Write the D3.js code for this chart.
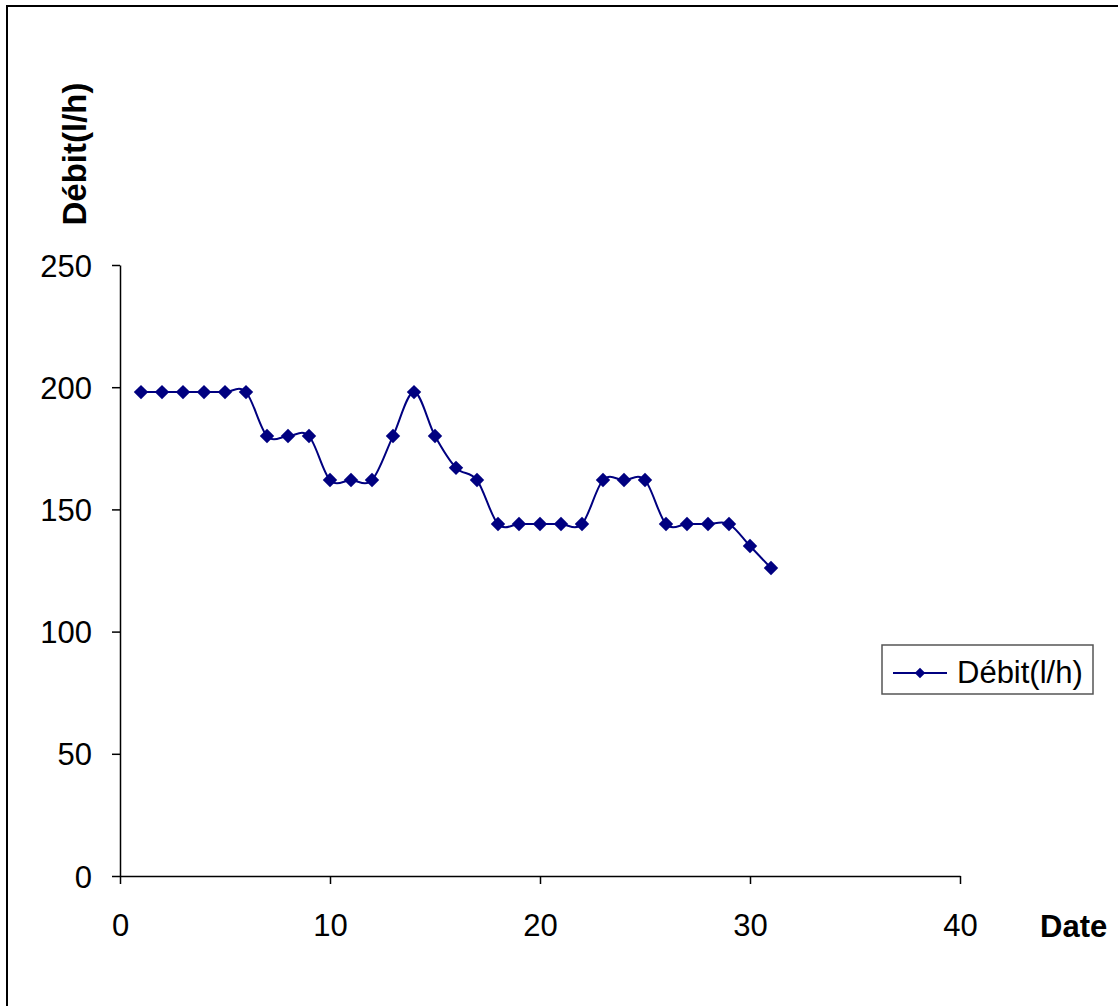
<!DOCTYPE html>
<html>
<head>
<meta charset="utf-8">
<script src="https://cdn.jsdelivr.net/npm/d3@7"></script>
<style>
	body { margin: 0; background: #fff; }
	svg { display: block; font-family: "Liberation Sans", Arial, sans-serif; }
</style>
</head>
<body>
<svg width="1118" height="1006"></svg>
<script>
// jours (Date) et debit mesure (l/h)
var days = [1, 2, 3, 4, 5, 6, 7, 8, 9, 10, 11, 12, 13, 14, 15, 16, 17, 18, 19, 20, 21, 22, 23, 24, 25, 26, 27, 28, 29, 30, 31];
var debit = [198, 198, 198, 198, 198, 198, 180, 180, 180, 162, 162, 162, 180, 198, 180, 167, 162, 144, 144, 144, 144, 144, 162, 162, 162, 144, 144, 144, 144, 135, 126];
var xTicks = [0, 10, 20, 30, 40];
var yTicks = [0, 50, 100, 150, 200, 250];
var seriesName = "Débit(l/h)";

var svg = d3.select("svg"),
	margin = {
		top: 265,
		left: 120
	},
	width = 840,
	height = 611;

var navy = "#000080";

// cadre exterieur
svg.append("rect")
	.attr("x", 7)
	.attr("y", 6)
	.attr("width", 1300)
	.attr("height", 1300)
	.attr("fill", "white")
	.attr("stroke", "black")
	.attr("stroke-width", 2);

var x = d3.scaleLinear().domain([0, 40]).range([0, width]),
	y = d3.scaleLinear().domain([0, 250]).range([height, 0]);

var g = svg.append("g")
	.attr("transform", "translate(" + margin.left + "," + margin.top + ")");

var xAxis = g.append("g")
	.attr("transform", "translate(0," + height + ")")
	.call(d3.axisBottom(x).tickValues(xTicks).tickSizeInner(8).tickSizeOuter(0).tickPadding(30));

var yAxis = g.append("g")
	.call(d3.axisLeft(y).tickValues(yTicks).tickSizeInner(8).tickSizeOuter(0).tickPadding(20));

[xAxis, yAxis].forEach(function(a) {
	a.select(".domain").attr("stroke", "black").attr("stroke-width", 1.5);
	a.selectAll(".tick line").attr("stroke", "black").attr("stroke-width", 1.5);
	a.selectAll(".tick text")
		.attr("fill", "black")
		.style("font-size", "31px")
		.style("font-family", "'Liberation Sans', Arial, sans-serif");
});
xAxis.selectAll(".tick text").attr("dy", "0.71em");
yAxis.selectAll(".tick text").attr("dy", "0.36em");

// titres des axes
svg.append("text")
	.attr("transform", "translate(86,154) rotate(-90)")
	.attr("text-anchor", "middle")
	.style("font-size", "33px")
	.style("font-weight", "bold")
	.text("Débit(l/h)");

svg.append("text")
	.attr("x", 1040)
	.attr("y", 937)
	.style("font-size", "31px")
	.style("font-weight", "bold")
	.text("Date");

var data = days.map(function(d, i) {
	return { day: d, val: debit[i] };
});

var line = d3.line()
	.x(function(d) { return x(d.day); })
	.y(function(d) { return y(d.val); })
	.curve(d3.curveCardinal.tension(0));

g.append("path")
	.datum(data)
	.attr("fill", "none")
	.attr("stroke", navy)
	.attr("stroke-width", 2)
	.attr("d", line);

var diamond = d3.symbol().type(d3.symbolSquare).size(104);

g.selectAll(".pt")
	.data(data)
	.enter().append("path")
	.attr("class", "pt")
	.attr("d", diamond)
	.attr("fill", navy)
	.attr("transform", function(d) {
		return "translate(" + x(d.day) + "," + y(d.val) + ") rotate(45)";
	});

// legende
var leg = svg.append("g");
leg.append("rect")
	.attr("x", 882)
	.attr("y", 645)
	.attr("width", 211)
	.attr("height", 49)
	.attr("fill", "white")
	.attr("stroke", "#555")
	.attr("stroke-width", 1.5);
leg.append("line")
	.attr("x1", 893)
	.attr("x2", 947)
	.attr("y1", 673)
	.attr("y2", 673)
	.attr("stroke", navy)
	.attr("stroke-width", 2);
leg.append("path")
	.attr("d", d3.symbol().type(d3.symbolSquare).size(56))
	.attr("fill", navy)
	.attr("transform", "translate(920,673) rotate(45)");
leg.append("text")
	.attr("x", 957)
	.attr("y", 683)
	.style("font-size", "31px")
	.text(seriesName);
</script>
</body>
</html>
